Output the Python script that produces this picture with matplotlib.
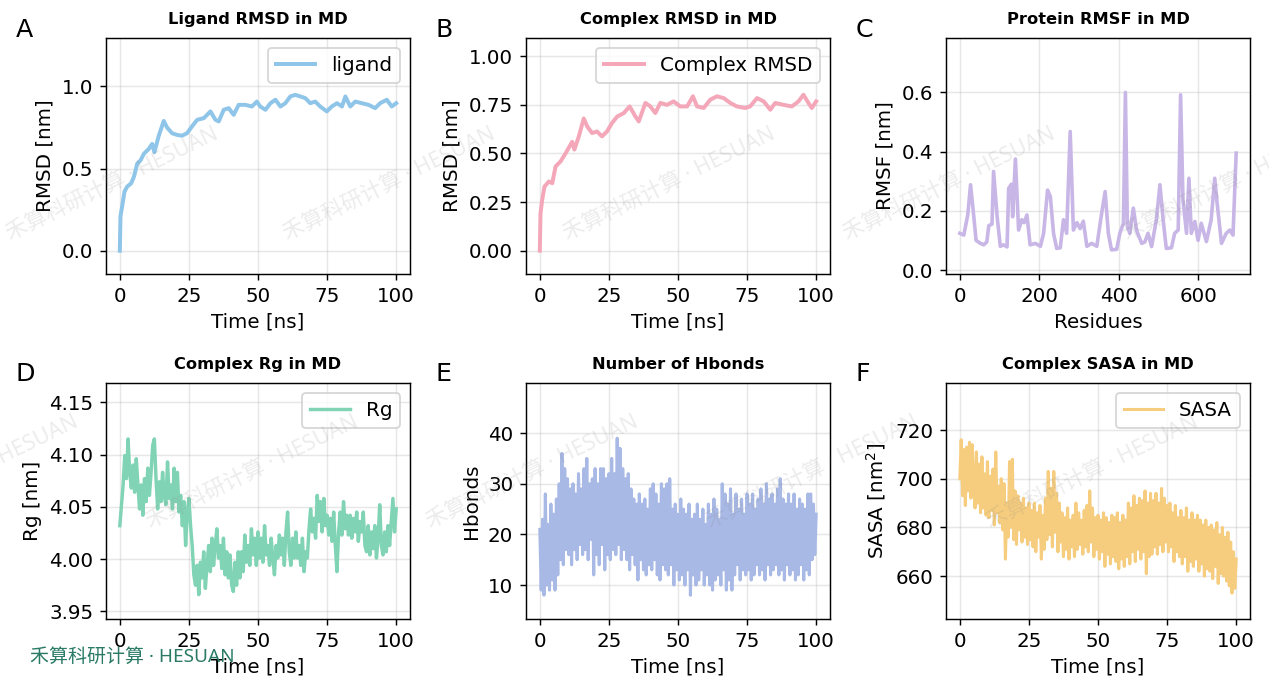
import numpy as np
import matplotlib.pyplot as plt

# ---- data ----
lig_t = [0, 0.24, 0.84, 1.7, 2.65, 4.1, 5.1, 6.3, 7.5, 8.7, 10.5, 11.7, 12.5, 14.1, 15.9, 17.1,
         18.9, 20.7, 22.5, 24.3, 26.1, 28, 30.4, 32.8, 34.6, 35.8, 37.6, 39.4, 41.2, 43, 45.4,
         47.8, 49.6, 50.8, 52.7, 54.5, 56.3, 58.1, 59.9, 61.7, 63.5, 65.3, 67.1, 68.9, 70.7,
         72.5, 74.9, 76.7, 78.6, 80.4, 81.6, 83.4, 85.2, 87.6, 90, 92.4, 94.2, 96.6, 98.4, 100]
lig_rmsd = [0, 0.21, 0.27, 0.36, 0.39, 0.41, 0.45, 0.53, 0.55, 0.59, 0.62, 0.65, 0.60, 0.70,
            0.79, 0.75, 0.715, 0.705, 0.70, 0.715, 0.756, 0.797, 0.807, 0.848, 0.797, 0.787,
            0.858, 0.868, 0.827, 0.888, 0.888, 0.878, 0.908, 0.878, 0.858, 0.898, 0.919, 0.878,
            0.898, 0.939, 0.949, 0.939, 0.929, 0.898, 0.908, 0.878, 0.848, 0.878, 0.898, 0.878,
            0.939, 0.878, 0.908, 0.898, 0.888, 0.868, 0.898, 0.919, 0.878, 0.898]

cpx_t = [0, 0.24, 0.84, 1.7, 3.3, 4.5, 5.7, 7.5, 9.3, 11.7, 12.5, 14.1, 15.9, 17.1, 18.9, 20.7,
         22.5, 24.3, 26.1, 28, 30.4, 32.5, 34.6, 35.8, 38.2, 40, 41.8, 43.6, 46, 48.4, 50.8,
         53.3, 55.4, 56.9, 59.3, 61.7, 64.1, 66.5, 68.9, 71.3, 74.3, 76.1, 78.6, 81, 83.4,
         85.2, 88.2, 91.2, 93.6, 95.4, 97.2, 98.4, 100]
cpx_rmsd = [0, 0.19, 0.26, 0.33, 0.356, 0.347, 0.433, 0.459, 0.50, 0.56, 0.52, 0.587, 0.68,
            0.64, 0.605, 0.613, 0.588, 0.613, 0.656, 0.69, 0.708, 0.742, 0.69, 0.665, 0.76,
            0.742, 0.708, 0.76, 0.75, 0.768, 0.742, 0.742, 0.794, 0.742, 0.734, 0.777, 0.794,
            0.785, 0.76, 0.742, 0.734, 0.742, 0.785, 0.768, 0.725, 0.76, 0.75, 0.742, 0.768,
            0.802, 0.76, 0.734, 0.768]

residues = [0, 10, 20, 27, 33, 41, 52, 60, 68, 73, 81, 85, 94, 102, 110, 119, 123, 130, 133,
            140, 148, 156, 162, 169, 177, 190, 203, 211, 221, 228, 236, 244, 253, 261, 269,
            278, 286, 295, 303, 311, 320, 332, 345, 357, 366, 374, 382, 395, 403, 412, 417,
            422, 428, 437, 445, 458, 466, 474, 483, 495, 504, 512, 520, 533, 541, 550, 556,
            562, 571, 577, 583, 592, 600, 608, 621, 633, 642, 648, 659, 671, 680, 688, 696]
rmsf = [0.124, 0.118, 0.186, 0.288, 0.21, 0.10, 0.09, 0.085, 0.095, 0.15, 0.155, 0.333, 0.18,
        0.08, 0.085, 0.078, 0.276, 0.29, 0.18, 0.375, 0.135, 0.17, 0.16, 0.186, 0.085, 0.09,
        0.08, 0.124, 0.27, 0.248, 0.124, 0.073, 0.075, 0.17, 0.124, 0.468, 0.135, 0.16, 0.14,
        0.165, 0.08, 0.09, 0.08, 0.19, 0.265, 0.124, 0.068, 0.07, 0.124, 0.158, 0.600, 0.147,
        0.124, 0.209, 0.135, 0.09, 0.095, 0.124, 0.079, 0.17, 0.288, 0.17, 0.073, 0.075,
        0.124, 0.135, 0.592, 0.237, 0.124, 0.31, 0.124, 0.164, 0.10, 0.158, 0.096, 0.17,
        0.31, 0.226, 0.09, 0.124, 0.135, 0.118, 0.395]

rg = [4.032, 4.052, 4.071, 4.099, 4.077, 4.115, 4.083, 4.068, 4.090, 4.064, 4.096, 4.071,
      4.048, 4.071, 4.042, 4.077, 4.055, 4.087, 4.061, 4.083, 4.109, 4.115, 4.077, 4.048,
      4.074, 4.055, 4.083, 4.061, 4.052, 4.093, 4.058, 4.071, 4.048, 4.087, 4.055, 4.083,
      4.045, 4.061, 4.032, 4.055, 4.013, 4.045, 4.058, 4.032, 4.013, 3.985, 3.975, 3.994,
      3.966, 3.997, 3.982, 4.007, 3.972, 3.994, 4.013, 3.988, 4.020, 3.994, 4.013, 4.029,
      4.001, 4.013, 3.991, 4.020, 3.985, 4.007, 3.982, 4.004, 3.975, 3.969, 3.997, 3.975,
      4.007, 3.982, 4.007, 3.988, 4.023, 3.997, 4.013, 3.994, 4.029, 4.004, 4.020, 3.994,
      4.026, 4.001, 4.020, 3.997, 4.032, 4.004, 4.013, 3.994, 4.020, 4.001, 3.985, 4.013,
      4.001, 4.023, 4.004, 4.020, 3.994, 4.026, 4.045, 4.007, 3.994, 4.020, 4.001, 4.026,
      4.001, 4.013, 3.994, 4.020, 3.988, 4.007, 4.001, 4.029, 4.048, 4.026, 4.039, 4.020,
      4.061, 4.036, 4.055, 4.026, 4.058, 4.032, 4.042, 4.023, 4.039, 4.017, 4.045, 4.013,
      3.988, 4.026, 4.045, 4.023, 4.055, 4.029, 4.042, 4.023, 4.042, 4.020, 4.039, 4.026,
      4.045, 4.017, 4.036, 4.026, 4.045, 4.013, 4.007, 4.032, 4.004, 4.026, 4.010, 4.032,
      4.001, 4.020, 4.052, 4.013, 4.004, 4.026, 4.007, 4.032, 4.013, 4.036, 4.058, 4.026,
      4.048]

hbonds = [21, 9, 23, 8, 28, 10, 22, 9, 26, 11, 24,
          9, 27, 12, 30, 15, 36, 14, 33, 17, 31,
          16, 29, 14, 30, 17, 28, 15, 32, 18, 29,
          16, 33, 17, 35, 15, 30, 19, 31, 12, 33,
          16, 30, 14, 33, 18, 33, 13, 31, 16, 32,
          15, 35, 17, 32, 16, 39, 18, 37, 15, 33,
          17, 31, 15, 32, 13, 29, 16, 27, 14, 26,
          11, 28, 15, 26, 13, 27, 12, 25, 14, 29,
          13, 30, 15, 28, 12, 26, 11, 30, 14, 29,
          13, 30, 12, 31, 14, 25, 10, 26, 13, 24,
          11, 27, 12, 25, 10, 24, 13, 26, 8, 23,
          12, 24, 10, 26, 11, 23, 13, 25, 10, 22,
          12, 26, 10, 24, 9, 27, 11, 25, 12, 23,
          10, 30, 13, 28, 9, 26, 11, 29, 9, 24,
          12, 28, 14, 25, 11, 27, 13, 24, 12, 28,
          13, 26, 11, 28, 12, 25, 14, 27, 12, 29,
          13, 26, 11, 30, 14, 27, 12, 28, 13, 26,
          14, 29, 12, 31, 13, 27, 11, 26, 14, 28,
          12, 26, 13, 28, 11, 25, 12, 27, 14, 26,
          11, 25, 13, 28, 12, 28, 15, 26, 16, 24]

sasa = [700, 716, 693, 712, 689, 713, 695, 715, 692, 714, 698,
        688, 711, 690, 706, 686, 709, 688, 702, 685, 707,
        684, 701, 687, 704, 681, 711, 686, 697, 682, 700,
        679, 698, 667, 690, 676, 707, 680, 708, 675, 695,
        673, 693, 679, 690, 674, 692, 676, 688, 673, 690,
        675, 687, 672, 690, 670, 686, 676, 689, 667, 685,
        671, 692, 675, 703, 677, 696, 672, 703, 678, 694,
        670, 690, 674, 686, 668, 684, 671, 688, 667, 683,
        672, 685, 668, 690, 671, 686, 673, 683, 669, 687,
        672, 689, 670, 695, 674, 688, 668, 684, 671, 685,
        667, 683, 670, 686, 664, 684, 669, 682, 665, 685,
        668, 684, 666, 686, 663, 682, 667, 685, 664, 683,
        668, 690, 665, 688, 670, 693, 666, 689, 671, 692,
        667, 691, 670, 695, 661, 690, 668, 694, 669, 691,
        672, 694, 669, 690, 673, 696, 670, 692, 674, 689,
        670, 690, 672, 686, 666, 689, 670, 684, 668, 687,
        665, 684, 668, 688, 662, 683, 666, 686, 664, 683,
        667, 685, 662, 683, 665, 681, 660, 683, 663, 680,
        662, 681, 659, 679, 664, 682, 657, 677, 661, 680,
        660, 676, 658, 678, 656, 674, 653, 670, 655, 667]

rg_t = np.linspace(0, 100, len(rg))
hb_t = np.linspace(0, 100, len(hbonds))
sasa_t = np.linspace(0, 100, len(sasa))

W, H = 1269, 693
fig = plt.figure(figsize=(W / 130, H / 130), dpi=130)

lefts = [106, 526, 946]
tops = [38, 383]
aw, ah = 304, 236
FS = 11


def make_ax(row, col):
    l = lefts[col] / W
    b = 1 - (tops[row] + ah) / H
    return fig.add_axes([l, b, aw / W, ah / H])


def style(ax, title, xlabel, ylabel):
    ax.set_title(title, fontsize=9, fontweight='bold', pad=8)
    ax.set_xlabel(xlabel, fontsize=FS)
    ax.set_ylabel(ylabel, fontsize=FS)
    ax.grid(True, alpha=0.3)
    ax.tick_params(labelsize=FS)


# A
ax = make_ax(0, 0)
ax.plot(lig_t, lig_rmsd, color='#8ec5e8', lw=2.2, label='ligand')
ax.set_ylim(-0.142, 1.295)
ax.set_yticks([0.0, 0.5, 1.0])
style(ax, 'Ligand RMSD in MD', 'Time [ns]', 'RMSD [nm]')
ax.legend(loc='upper right', fontsize=FS)

# B
ax = make_ax(0, 1)
ax.plot(cpx_t, cpx_rmsd, color='#f4a7b9', lw=2.2, label='Complex RMSD')
ax.set_ylim(-0.12, 1.094)
ax.set_yticks([0.0, 0.25, 0.5, 0.75, 1.0])
style(ax, 'Complex RMSD in MD', 'Time [ns]', 'RMSD [nm]')
ax.legend(loc='upper right', fontsize=FS)

# C
ax = make_ax(0, 2)
ax.plot(residues, rmsf, color='#c8b6e6', lw=2.0)
ax.set_ylim(-0.0135, 0.784)
ax.set_yticks([0.0, 0.2, 0.4, 0.6])
ax.set_xticks([0, 200, 400, 600])
style(ax, 'Protein RMSF in MD', 'Residues', 'RMSF [nm]')

# D
ax = make_ax(1, 0)
ax.plot(rg_t, rg, color='#80d4b5', lw=1.9, label='Rg')
ax.set_ylim(3.9427, 4.1685)
ax.set_yticks([3.95, 4.00, 4.05, 4.10, 4.15])
style(ax, 'Complex Rg in MD', 'Time [ns]', 'Rg [nm]')
ax.legend(loc='upper right', fontsize=FS)

# E
ax = make_ax(1, 1)
ax.plot(hb_t, hbonds, color='#a8b9e6', lw=1.7)
ax.set_ylim(3.3, 49.9)
ax.set_yticks([10, 20, 30, 40])
style(ax, 'Number of Hbonds', 'Time [ns]', 'Hbonds')

# F
ax = make_ax(1, 2)
ax.plot(sasa_t, sasa, color='#f6cd7e', lw=1.7, label='SASA')
ax.set_ylim(642.4, 739.3)
ax.set_yticks([660, 680, 700, 720])
style(ax, 'Complex SASA in MD', 'Time [ns]', 'SASA [nm$^2$]')
ax.legend(loc='upper right', fontsize=FS)

# panel letters
for letter, (x, y) in zip('ABCDEF', [(16, 18), (436, 18), (856, 18),
                                     (16, 362), (436, 362), (856, 362)]):
    fig.text(x / W, 1 - y / H, letter, fontsize=14, va='top', ha='left')

# faint diagonal watermarks
wm = '禾算科研计算 · HESUAN'
wm_font = ['Noto Sans', 'Noto Sans CJK SC']
for x0, y0 in [(10, 240), (287, 240), (567, 240), (847, 240), (1127, 240),
               (-130, 528), (150, 528), (430, 528), (710, 528), (990, 528)]:
    fig.text(x0 / W, 1 - y0 / H, wm, fontsize=12, rotation=26, color='gray', alpha=0.15,
             ha='left', va='baseline', family=wm_font, rotation_mode='anchor')

fig.text(30 / W, 1 - 657 / H, wm, fontsize=10.5, color='#2a7a66', ha='left', va='center',
         family=wm_font)

fig.savefig('out.png', dpi=130)
